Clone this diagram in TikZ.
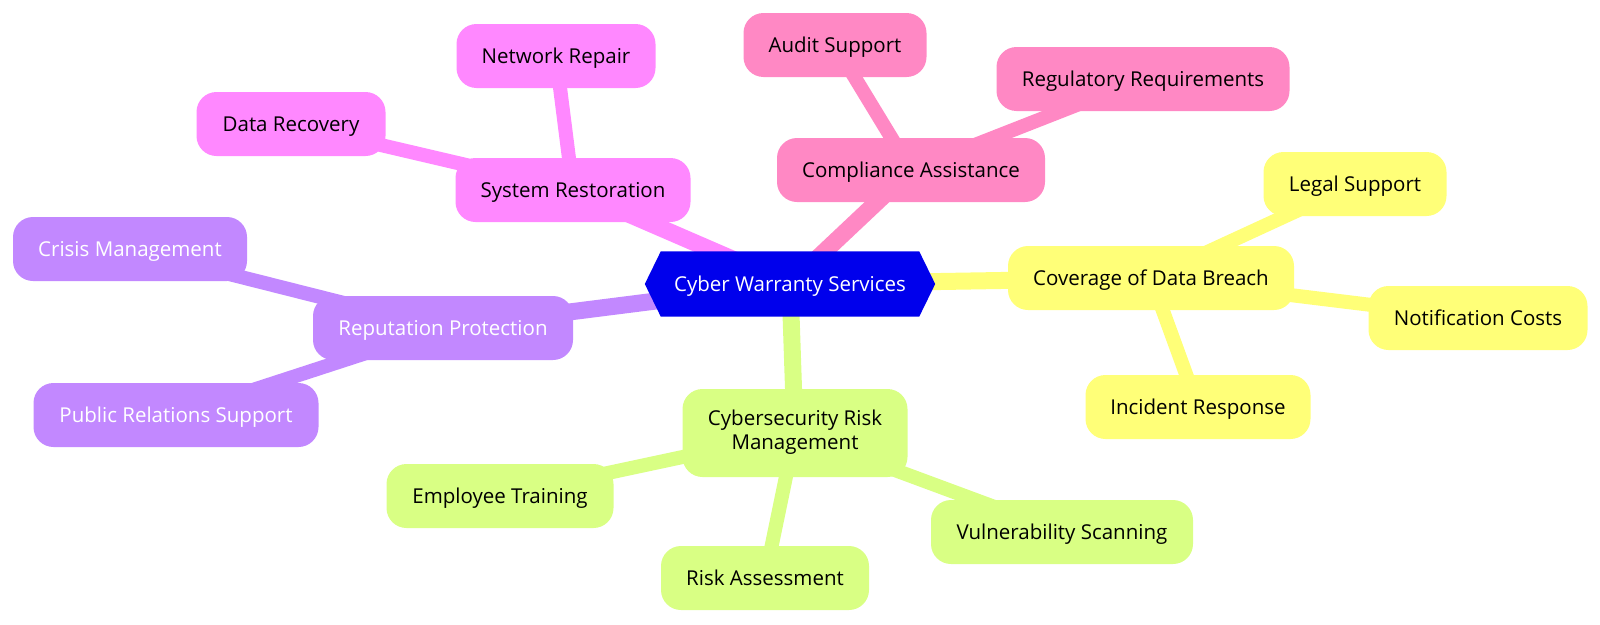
\documentclass[tikz,border=0pt]{standalone}
\usepackage{fontspec}
\setmainfont{Open Sans}
\definecolor{rootblue}{RGB}{0,0,236}
\definecolor{cmag}{RGB}{255,136,255}
\definecolor{cpink}{RGB}{255,136,196}
\definecolor{cyel}{RGB}{255,255,120}
\definecolor{cgreen}{RGB}{217,255,132}
\definecolor{cpurp}{RGB}{194,136,255}
\pgfdeclarelayer{edges}
\pgfdeclarelayer{mid}
\pgfsetlayers{edges,mid,main}
\begin{document}
\begin{tikzpicture}[x=1pt,y=-1pt,
  txt/.style={font=\fontsize{20.5}{22}\selectfont, text height=19pt, text depth=5pt},
  box/.style={txt, rounded corners=20pt, minimum height=64pt, inner xsep=0pt, inner ysep=0pt,
    text=black, align=center},
  rootedge/.style={line width=17pt},
  subedge/.style={line width=14pt}]
\useasboundingbox (0,0) rectangle (1600,624);
% root
\node[txt, text=white, minimum width=258pt, minimum height=65pt, inner sep=0pt] (root) at (790,284) {Cyber Warranty Services};
% System Restoration branch
\node[box, fill=cmag, minimum width=235pt] (sr) at (573,190) {System Restoration};
\node[box, fill=cmag, minimum width=199pt] (nr) at (556,56) {Network Repair};
\node[box, fill=cmag, minimum width=189pt] (dr) at (291,124) {Data Recovery};
% Compliance branch
\node[box, fill=cpink, minimum width=268pt] (ca) at (911,170) {Compliance Assistance};
\node[box, fill=cpink, minimum width=183pt] (as) at (835,45) {Audit Support};
\node[box, fill=cpink, minimum width=293pt] (rr) at (1143,79) {Regulatory Requirements};
% Data breach branch
\node[box, fill=cyel, minimum width=286pt] (cdb) at (1151,278) {Coverage of Data Breach};
\node[box, fill=cyel, minimum width=183pt] (ls) at (1355,184) {Legal Support};
\node[box, fill=cyel, minimum width=219pt] (nc) at (1478,318) {Notification Costs};
\node[box, fill=cyel, minimum width=225pt] (ir) at (1198,407) {Incident Response};
% Risk management branch
\node[rounded corners=20pt, inner sep=0pt, fill=cgreen, minimum width=225pt, minimum height=88pt,
  font=\fontsize{20.5}{23.5}\selectfont] (crm) at (795,433)
  {\raisebox{-4pt}{\begin{tabular}{@{}c@{}}Cybersecurity Risk\\Management\end{tabular}}};
\node[box, fill=cgreen, minimum width=227pt] (et) at (500,496) {Employee Training};
\node[box, fill=cgreen, minimum width=208pt] (ra) at (765,578) {Risk Assessment};
\node[box, fill=cgreen, minimum width=262pt] (vs) at (1062,532) {Vulnerability Scanning};
% Reputation branch
\node[box, fill=cpurp, text=white, minimum width=260pt] (rp) at (443,328) {Reputation Protection};
\node[box, fill=cpurp, text=white, minimum width=234pt] (cm) at (130,249) {Crisis Management};
\node[box, fill=cpurp, text=white, minimum width=285pt] (prs) at (176,415) {Public Relations Support};
% hexagon
\begin{pgfonlayer}{mid}
\fill[rootblue] (root.north west) -- (root.north east) -- ([xshift=16pt]root.east) -- (root.south east) -- (root.south west) -- ([xshift=-16pt]root.west) -- cycle;
\end{pgfonlayer}
% edges
\begin{pgfonlayer}{edges}
\draw[rootedge, cmag] (root.center) -- (sr.center);
\draw[rootedge, cpink] (root.center) -- (ca.center);
\draw[rootedge, cyel] (root.center) -- (cdb.center);
\draw[rootedge, cgreen] (root.center) -- (crm.center);
\draw[rootedge, cpurp] (root.center) -- (rp.center);
\draw[subedge, cmag] (sr.center) -- (nr.center);
\draw[subedge, cmag] (sr.center) -- (dr.center);
\draw[subedge, cpink] (ca.center) -- (as.center);
\draw[subedge, cpink] (ca.center) -- (rr.center);
\draw[subedge, cyel] (cdb.center) -- (ls.center);
\draw[subedge, cyel] (cdb.center) -- (nc.center);
\draw[subedge, cyel] (cdb.center) -- (ir.center);
\draw[subedge, cgreen] (crm.center) -- (et.center);
\draw[subedge, cgreen] (crm.center) -- (ra.center);
\draw[subedge, cgreen] (crm.center) -- (vs.center);
\draw[subedge, cpurp] (rp.center) -- (cm.center);
\draw[subedge, cpurp] (rp.center) -- (prs.center);
\end{pgfonlayer}
\end{tikzpicture}
\end{document}
